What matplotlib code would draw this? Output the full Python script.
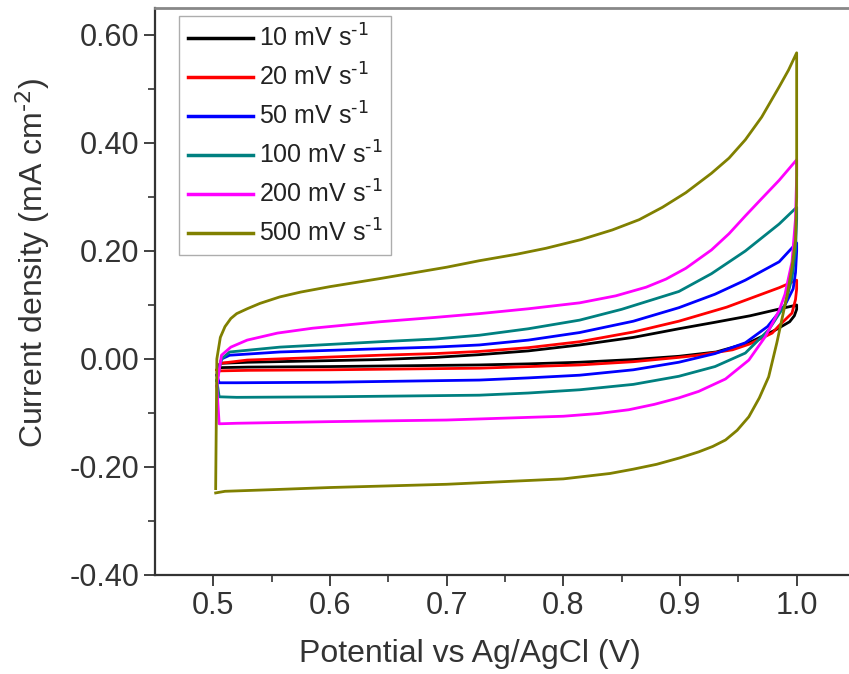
import matplotlib.pyplot as plt

plt.rcParams["font.family"] = ["Liberation Sans", "DejaVu Sans"]
plt.rcParams["mathtext.default"] = "regular"

# scan rates and colours (Origin defaults)
labels = [r"10 mV s$^{\text{-1}}$", r"20 mV s$^{\text{-1}}$", r"50 mV s$^{\text{-1}}$",
          r"100 mV s$^{\text{-1}}$", r"200 mV s$^{\text{-1}}$", r"500 mV s$^{\text{-1}}$"]
colors = ["#000000", "#FF0000", "#0000FF", "#008080", "#FF00FF", "#808000"]

# each loop: anodic branch left -> right, then cathodic branch right -> left
x_10 = [0.504, 0.506, 0.53, 0.6, 0.643, 0.69, 0.728, 0.77, 0.814, 0.86, 0.899, 0.93, 0.96, 0.976, 0.99, 1.0,
        1.0, 0.998, 0.994, 0.982, 0.959, 0.931, 0.899, 0.86, 0.814, 0.77, 0.728, 0.6, 0.53, 0.505, 0.504]
y_10 = [-0.015, -0.008, -0.006, -0.003, -0.001, 0.003, 0.008, 0.015, 0.026, 0.040, 0.056, 0.068, 0.080, 0.088,
        0.095, 0.100,
        0.092, 0.080, 0.069, 0.054, 0.030, 0.013, 0.005, -0.001, -0.006, -0.009, -0.011, -0.014, -0.015,
        -0.016, -0.015]

x_20 = [0.503, 0.506, 0.529, 0.643, 0.69, 0.728, 0.77, 0.814, 0.86, 0.899, 0.94, 0.970, 0.985, 1.0,
        1.0, 0.999, 0.996, 0.985, 0.979, 0.96, 0.945, 0.916, 0.899, 0.86, 0.814, 0.728, 0.6, 0.53, 0.505, 0.503]
y_20 = [-0.02, -0.008, -0.002, 0.007, 0.010, 0.014, 0.021, 0.032, 0.050, 0.070, 0.096, 0.120, 0.132, 0.146,
        0.13, 0.11, 0.085, 0.062, 0.048, 0.028, 0.017, 0.007, 0.003, -0.005, -0.011, -0.017, -0.02, -0.021,
        -0.022, -0.02]

x_50 = [0.503, 0.507, 0.514, 0.557, 0.643, 0.69, 0.728, 0.77, 0.814, 0.86, 0.899, 0.93, 0.956, 0.985, 1.0,
        1.0, 0.999, 0.997, 0.99, 0.975, 0.956, 0.93, 0.899, 0.86, 0.814, 0.77, 0.728, 0.6, 0.52, 0.505, 0.503]
y_50 = [-0.03, 0.0, 0.007, 0.013, 0.019, 0.022, 0.026, 0.035, 0.049, 0.070, 0.095, 0.120, 0.146, 0.180, 0.215,
        0.20, 0.16, 0.13, 0.10, 0.060, 0.030, 0.010, -0.006, -0.020, -0.030, -0.035, -0.039, -0.043, -0.044,
        -0.044, -0.03]

x_100 = [0.503, 0.507, 0.514, 0.557, 0.643, 0.69, 0.728, 0.77, 0.814, 0.85, 0.899, 0.927, 0.956, 0.985, 1.0,
         1.0, 0.999, 0.996, 0.99, 0.976, 0.956, 0.93, 0.899, 0.86, 0.814, 0.77, 0.728, 0.6, 0.52, 0.505, 0.503]
y_100 = [-0.04, 0.0, 0.013, 0.022, 0.032, 0.037, 0.044, 0.056, 0.072, 0.092, 0.125, 0.158, 0.200, 0.250, 0.281,
         0.26, 0.2, 0.15, 0.10, 0.054, 0.011, -0.014, -0.032, -0.047, -0.057, -0.063, -0.067, -0.07, -0.071,
         -0.07, -0.04]

x_200 = [0.503, 0.507, 0.515, 0.529, 0.555, 0.585, 0.643, 0.69, 0.728, 0.77, 0.814, 0.845, 0.871, 0.888, 0.905,
         0.927, 0.942, 0.956, 0.970, 0.985, 1.0,
         1.0, 0.999, 0.996, 0.99, 0.985, 0.973, 0.959, 0.939, 0.916, 0.899, 0.878, 0.856, 0.83, 0.8, 0.7, 0.6,
         0.52, 0.505, 0.503]
y_200 = [-0.05, 0.007, 0.022, 0.035, 0.048, 0.057, 0.069, 0.077, 0.084, 0.093, 0.104, 0.117, 0.133, 0.148, 0.168,
         0.202, 0.232, 0.265, 0.297, 0.331, 0.369,
         0.34, 0.26, 0.18, 0.12, 0.09, 0.041, -0.002, -0.037, -0.060, -0.072, -0.084, -0.094, -0.101, -0.106,
         -0.113, -0.116, -0.119, -0.12, -0.05]

x_500 = [0.502, 0.503, 0.506, 0.510, 0.515, 0.52, 0.529, 0.54, 0.557, 0.575, 0.6, 0.643, 0.7, 0.728, 0.76,
         0.785, 0.815, 0.842, 0.865, 0.885, 0.905, 0.927, 0.942, 0.956, 0.970, 0.985, 0.993, 1.0,
         1.0, 0.999, 0.996, 0.992, 0.988, 0.983, 0.976, 0.968, 0.959, 0.949, 0.939, 0.928, 0.916, 0.9, 0.88,
         0.86, 0.84, 0.8, 0.7, 0.6, 0.55, 0.51, 0.502]
y_500 = [-0.24, 0.0, 0.04, 0.06, 0.075, 0.084, 0.093, 0.103, 0.115, 0.124, 0.134, 0.149, 0.170, 0.182, 0.194,
         0.205, 0.221, 0.239, 0.258, 0.281, 0.308, 0.344, 0.372, 0.406, 0.448, 0.504, 0.535, 0.567,
         0.30, 0.22, 0.17, 0.12, 0.08, 0.03, -0.033, -0.072, -0.107, -0.132, -0.150, -0.162, -0.172, -0.183,
         -0.195, -0.204, -0.212, -0.222, -0.232, -0.238, -0.242, -0.245, -0.248]

curves = [(x_10, y_10), (x_20, y_20), (x_50, y_50),
          (x_100, y_100), (x_200, y_200), (x_500, y_500)]

xticks = [0.5, 0.6, 0.7, 0.8, 0.9, 1.0]
xtick_labels = ["0.5", "0.6", "0.7", "0.8", "0.9", "1.0"]
yticks = [-0.4, -0.2, 0.0, 0.2, 0.4, 0.6]
ytick_labels = ["-0.40", "-0.20", "0.00", "0.20", "0.40", "0.60"]

W, H = 849, 674
fig = plt.figure(figsize=(W / 100, H / 100), dpi=100)
ax = fig.add_axes([155 / W, 1 - 575 / H, 700 / W, 567 / H])

for (x, y), c, lab in zip(curves, colors, labels):
    ax.plot(x, y, color=c, lw=2.0, label=lab, solid_joinstyle="round")

ax.set_xlim(0.45, 1.05)
ax.set_ylim(-0.4, 0.65)
ax.set_xticks(xticks)
ax.set_xticklabels(xtick_labels)
ax.set_yticks(yticks)
ax.set_yticklabels(ytick_labels)
ax.set_xticks([0.55, 0.65, 0.75, 0.85, 0.95], minor=True)
ax.set_yticks([-0.3, -0.1, 0.1, 0.3, 0.5], minor=True)
ax.tick_params(which="major", direction="out", length=8, width=1.3, labelsize=22, colors="#333333")
ax.tick_params(which="minor", direction="out", length=5, width=1.2, colors="#333333")

for s in ["left", "bottom"]:
    ax.spines[s].set_linewidth(1.6)
    ax.spines[s].set_color("#333333")
ax.spines["top"].set_linewidth(2.0)
ax.spines["top"].set_color("#888888")
ax.spines["right"].set_visible(False)

ax.set_xlabel("Potential vs Ag/AgCl (V)", fontsize=23, color="#333333")
ax.set_ylabel(r"Current density (mA cm$^{\text{-2}}$)", fontsize=23, color="#333333")
ax.xaxis.set_label_coords(0.45, -0.112)
ax.yaxis.set_label_coords(-0.147, 0.55)

leg = ax.legend(loc="upper left", bbox_to_anchor=(24 / 700, 559 / 567), borderaxespad=0,
                fontsize=18, frameon=True, fancybox=False, handlelength=2.6, handletextpad=0.25,
                labelspacing=0.47, borderpad=0.35)
leg.get_frame().set_edgecolor("#999999")
leg.get_frame().set_linewidth(1.0)
for line in leg.get_lines():
    line.set_linewidth(2.5)
for t in leg.get_texts():
    t.set_color("#222222")

fig.savefig("out.png", dpi=100)
